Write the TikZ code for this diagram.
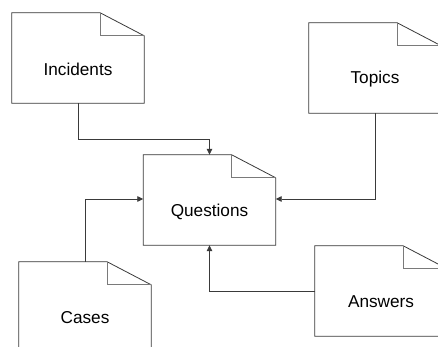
\documentclass[tikz,border=0pt]{standalone}
\usepackage{fontspec}
\setmainfont{Liberation Sans}
\usetikzlibrary{arrows.meta}
\definecolor{outl}{HTML}{3A3A3A}
\definecolor{foldc}{HTML}{7A7A7A}
\tikzset{
  doc/.style={minimum width=132pt, minimum height=90pt, inner sep=0pt, draw=none},
  lbl/.style={font=\fontsize{17.2}{20}\selectfont, anchor=center},
  conn/.style={draw=outl, line width=0.8pt, -{Triangle[length=6pt,width=5.5pt]}},
}
\newcommand{\docdraw}[1]{%
  \draw[outl, line width=0.8pt] (#1.north west) -- ([xshift=-44pt]#1.north east)
    -- ([yshift=-23pt]#1.north east) -- (#1.south east) -- (#1.south west) -- cycle;
  \draw[foldc, line width=0.8pt] ([xshift=-44pt]#1.north east) |- ([yshift=-23pt]#1.north east);
  \draw[foldc, line width=0.8pt] (#1.north west) -- ([xshift=-44pt]#1.north east);
}
\begin{document}
\begin{tikzpicture}[x=1pt,y=-1pt]
\useasboundingbox (0,0) rectangle (438,347);
\clip (0,0) rectangle (438,347);
\fill[white] (0,0) rectangle (438,347);
\node[doc] (inc) at (78,58) {};
\node[doc] (top) at (375,68) {};
\node[doc] (q) at (209.5,200) {};
\node[doc] (cas) at (85,307) {};
\node[doc] (ans) at (381,291) {};
\docdraw{inc}\docdraw{top}\docdraw{q}\docdraw{cas}\docdraw{ans}
\node[lbl] (tinc) at ([yshift=-11.5pt]inc.center) {Incidents};
\node[lbl] (ttop) at ([yshift=-11.5pt]top.center) {Topics};
\node[lbl] (tq) at ([yshift=-11.5pt]q.center) {Questions};
\node[lbl] (tcas) at ([yshift=-11pt]cas.center) {Cases};
\node[lbl] (tans) at ([yshift=-11pt]ans.center) {Answers};
\draw[conn] (inc.south) -- ++(0,36) -| (q.north);
\draw[conn] (top.south) |- ([yshift=1pt]q.east);
\draw[conn] (cas.north) |- ([yshift=1pt]q.west);
\draw[conn] (ans.west) -| (q.south);
\end{tikzpicture}
\end{document}
